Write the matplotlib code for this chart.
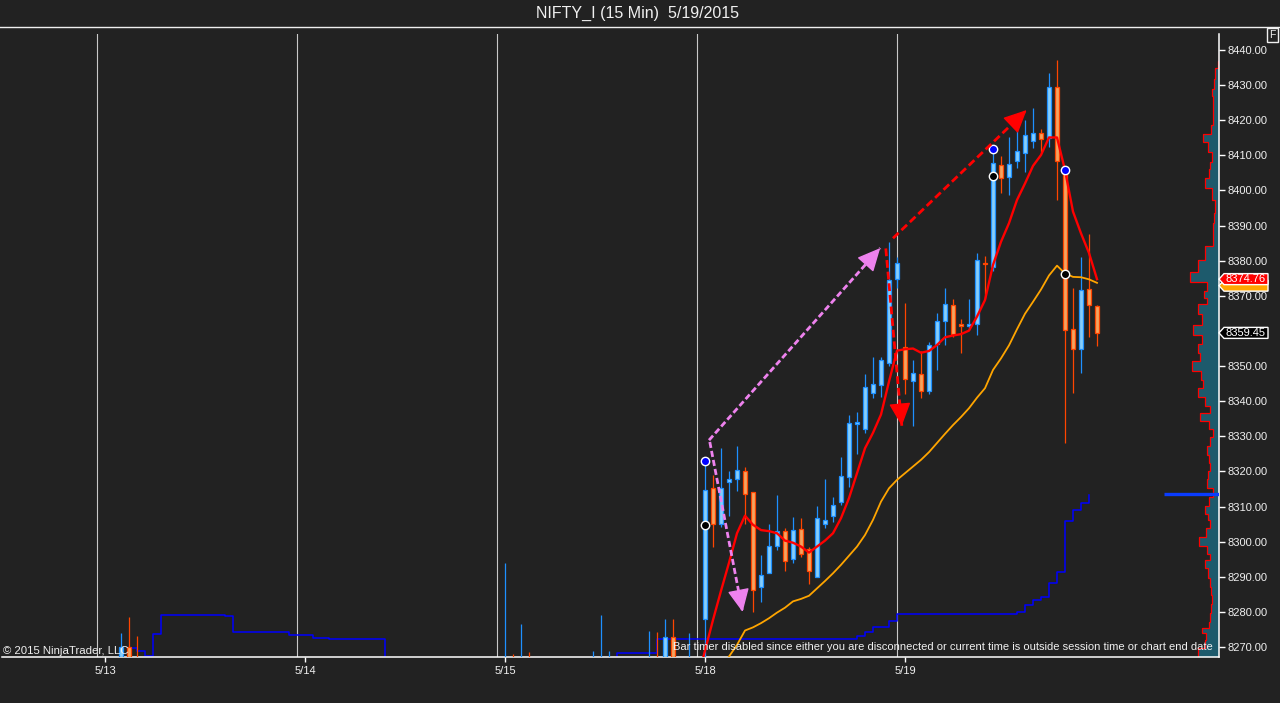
import numpy as np
import matplotlib
matplotlib.use('Agg')
import matplotlib.pyplot as plt
from matplotlib.lines import Line2D
from matplotlib.patches import Polygon
from matplotlib.transforms import blended_transform_factory

plt.rcParams['font.family'] = ['Liberation Sans', 'DejaVu Sans']

BG = '#222222'
FG = '#f0f0f0'

# 15 min bars, 25 bars per session; bar index 0 = first bar of 5/13
day_labels = ['5/13', '5/14', '5/15', '5/18', '5/19']
bars_per_day = 25

# bars of 5/13 - 5/15 only poke their highs into the panel
early_idx = [2, 3, 4, 50, 51, 52, 53, 61, 62, 63, 68, 69, 70, 71, 73]
early_open = [8255, 8270, 8262, 8240, 8258, 8245, 8262, 8250, 8258, 8262, 8258, 8266, 8260, 8272.8, 8262]
early_high = [8273.9, 8278.5, 8273.1, 8293.8, 8268, 8276.6, 8268.6, 8268.8, 8279, 8268.8, 8274.7, 8274.3, 8278, 8278, 8273.9]
early_low = [8250, 8252, 8250, 8235, 8240, 8240, 8245, 8245, 8255, 8256, 8255, 8256, 8258, 8262, 8258]
early_close = [8270, 8258, 8255, 8255, 8245, 8262, 8250, 8260, 8265, 8265.5, 8266, 8260, 8272.8, 8265, 8266]

# 5/18 and 5/19 sessions (bar 75 .. 124)
main_open = [8278, 8315.2, 8305, 8317.1, 8317.8, 8320.1, 8314.1, 8287, 8291, 8298.8,
             8303, 8295, 8303.5, 8297.8, 8289.9, 8305, 8307.3, 8311.2, 8318.3, 8333.5,
             8332, 8342.4, 8344.5, 8351, 8374.7,
             8355.3, 8345.7, 8347.7, 8342.8, 8356.2, 8362.8, 8367.3, 8361.9, 8361.3, 8362.1,
             8379.4, 8378.3, 8407.2, 8403.8, 8408.3, 8410.8, 8414, 8416.3, 8414.9, 8429.6,
             8406, 8360.5, 8354.8, 8371.9, 8367.1]
main_high = [8323, 8319, 8326.6, 8320.2, 8327.2, 8321.4, 8314.1, 8296.2, 8305, 8313.3,
             8304, 8306.9, 8306.6, 8298.6, 8310.2, 8317.8, 8312.8, 8324.2, 8336, 8337,
             8347.7, 8352.7, 8352.7, 8385.4, 8381.2,
             8367.9, 8351.7, 8354.3, 8356.9, 8365.2, 8372.1, 8369, 8363.3, 8369.1, 8382.1,
             8381.3, 8411.7, 8409.8, 8415.1, 8419.1, 8420, 8423.4, 8417.5, 8433.4, 8437.2,
             8406, 8372.2, 8381, 8387.6, 8367.4]
main_low = [8262, 8298.6, 8304.3, 8307.3, 8314.5, 8305, 8280.1, 8282.9, 8291, 8297.6,
            8291.7, 8294, 8295.7, 8288, 8289.9, 8304, 8305.5, 8310.5, 8315.7, 8325,
            8331, 8340.8, 8341.2, 8350, 8372.2,
            8342, 8333, 8341, 8342, 8348.9, 8356, 8358.2, 8353.6, 8360.3, 8358.9,
            8369.3, 8377, 8399.2, 8398.7, 8406.5, 8405.4, 8412, 8411, 8412.3, 8397.3,
            8328.2, 8342.4, 8348.1, 8358.4, 8355.7]
main_close = [8314.7, 8305, 8315.2, 8317.8, 8320.4, 8313.6, 8286.2, 8290.5, 8298.8, 8303,
              8294.6, 8303.3, 8296.4, 8291.7, 8306.6, 8306.2, 8310.3, 8318.8, 8333.7, 8334.2,
              8344, 8344.9, 8351.7, 8374.5, 8379.3,
              8346.2, 8348, 8343, 8355.9, 8362.8, 8367.7, 8359, 8361.3, 8361.9, 8380.1,
              8379, 8407.9, 8403.6, 8407.5, 8411.2, 8415.7, 8416.3, 8414.8, 8429.6, 8408.5,
              8360.3, 8354.8, 8371.6, 8367.3, 8359.45]

# fast average (red), bars 74 .. 124
fast_ma = [8260, 8269, 8277.7, 8286, 8294, 8302.4, 8307.4, 8304.8, 8303.3, 8303, 8302.4,
           8300.3, 8299.7, 8298.6, 8296.9, 8298.6, 8300.3, 8302.4, 8306.7, 8312.4, 8319.5,
           8326.6, 8331, 8336.2, 8345.6, 8354.4, 8354.8, 8355, 8353.8, 8354.3, 8356,
           8358.2, 8358.7, 8359.1, 8360.1, 8364.1, 8368.8, 8378.8, 8385.4, 8390.7, 8397.3,
           8402, 8407, 8410.1, 8415.1, 8415.1, 8405.8, 8394, 8387.8, 8382.2, 8374.76]
# slow average (orange), bars 77 .. 124
slow_ma = [8263, 8267.3, 8270.6, 8274.7, 8275.6, 8276.8, 8278.2, 8279.8, 8281.2, 8283,
           8283.7, 8284.6, 8286.7, 8288.8, 8291, 8293.4, 8296, 8298.6, 8301.9, 8306.2,
           8311.4, 8315.2, 8317.6, 8319.5, 8321.4, 8323.3, 8325.5, 8328.1, 8330.7, 8333.2,
           8335.5, 8338, 8341, 8343.7, 8348.9, 8352.2, 8355.9, 8360.5, 8364.9, 8368.3,
           8371.8, 8375.8, 8378.6, 8376.4, 8375.4, 8375.3, 8374.7, 8373.7]

# blue step line (value holds from this bar on)
stop_idx = [2, 3, 4, 5, 6, 7, 15, 16, 23, 26, 28, 35, 63, 64, 69, 94, 95, 96, 98, 99,
            114, 115, 116, 117, 118, 119, 120, 121, 122, 123]
stop_val = [8255, 8269.6, 8268.8, 8267.5, 8273.6, 8279.0, 8278.7, 8274.2, 8273.4, 8272.5,
            8272.2, 8255, 8255, 8268.2, 8272.3, 8273.1, 8274.2, 8275.6, 8277.3, 8279.4,
            8280.1, 8281.9, 8283.3, 8284.2, 8288.2, 8291.4, 8305.9, 8309.0, 8310.9, 8313.2]
level_price = 8313.5

# swing markers
hi_dot_idx = [75, 111, 120]
hi_dot_val = [8322.9, 8411.7, 8405.7]
lo_dot_idx = [75, 111, 120]
lo_dot_val = [8304.7, 8404.0, 8376.1]

# hand drawn arrows: (tail bar, tail price, head bar, head price)
pink_arrows = [(75.5, 8328.9, 96.9, 8383.6), (75.6, 8328.4, 79.7, 8280.0)]
red_arrows = [(97.6, 8383.5, 99.6, 8333.0), (98.5, 8386.4, 115.2, 8422.9)]

# volume profile along the price axis
prof_price = [8268.3, 8271.1, 8273, 8274.8, 8276, 8278.5, 8281, 8283.4, 8286, 8288.2,
              8291, 8293.9, 8295.6, 8297.5, 8299.9, 8302.5, 8305.3, 8307, 8309, 8311.5,
              8313.9, 8316.7, 8319, 8321.3, 8323.5, 8326.1, 8328.5, 8330.9, 8333, 8335.5,
              8337.5, 8340, 8342.3, 8345.2, 8347, 8350.3, 8352.5, 8355.1, 8357.4, 8360.3,
              8363.1, 8366.8, 8368.8, 8370, 8372.5, 8375.4, 8378.2, 8382.2, 8386, 8389.6,
              8392, 8395.3, 8399.3, 8402.1, 8405, 8407, 8409.5, 8412.4, 8415.2, 8417,
              8420.1, 8423, 8425.8, 8428, 8430, 8433.5, 8436, 8438]
prof_vol = [20.7, 14, 13, 17.3, 10, 9, 8, 7.3, 8, 9,
            11, 14, 9, 12, 19.7, 13, 9, 11, 14, 10,
            6.3, 12.3, 11, 9, 10, 12.3, 9, 5.7, 10, 19,
            9, 14, 20.7, 15.7, 18, 27.3, 19, 20.7, 17.3, 25.7,
            17.3, 20.7, 12.3, 15, 12.3, 29, 20.7, 14, 5.7, 5.7,
            5, 4, 7.3, 14, 9.7, 9, 7.3, 10.7, 15.7, 8,
            5.7, 6, 6.3, 7, 5, 4, 1.5, 0.5]

W, H = 1280, 703
fig = plt.figure(figsize=(W / 100, H / 100), dpi=100, facecolor=BG)
ax = fig.add_axes([2 / W, 46 / H, 1217 / W, 623 / H])
ax.set_facecolor(BG)
trans = blended_transform_factory(ax.transAxes, ax.transData)

# session breaks
for k in range(len(day_labels)):
    ax.axvline(k * bars_per_day - 1, color='#c8c8c8', lw=0.8, zorder=1)

# volume profile
edges = np.concatenate([[prof_price[0] - 1.4],
                        (np.array(prof_price[1:]) + np.array(prof_price[:-1])) / 2,
                        [prof_price[-1] + 1.2]])
pvals = 1 - np.array(prof_vol) / 1217
ax.stairs(pvals, edges, orientation='horizontal', baseline=1, fill=True,
          facecolor='#1d5a6c', edgecolor='none', transform=trans, zorder=2)
ax.stairs(pvals, edges, orientation='horizontal', baseline=None, color='red',
          lw=0.9, transform=trans, zorder=2)

# blue step line
ax.step(stop_idx, stop_val, where='post', color='#0000ff', lw=1.1, zorder=2)
ax.plot([132.4, 139.25], [level_price, level_price], color='#0a3cff', lw=2.4,
        solid_capstyle='butt', zorder=3)

# candles
idx = np.array(early_idx + list(range(75, 125)))
o = np.array(early_open + main_open)
h = np.array(early_high + main_high)
l = np.array(early_low + main_low)
c = np.array(early_close + main_close)
up = c >= o
up_face, up_edge = '#87cefa', '#1e90ff'
dn_face, dn_edge = '#f4a460', '#ff4500'
wick_colors = np.where(up, up_edge, dn_edge)
ax.vlines(idx, l, h, colors=wick_colors, lw=0.9, zorder=3)
body_bottom = np.minimum(o, c)
body_height = np.maximum(np.abs(c - o), 0.25)
ax.bar(idx[up], body_height[up], bottom=body_bottom[up], width=0.6,
       color=up_face, edgecolor=up_edge, lw=0.9, zorder=4)
ax.bar(idx[~up], body_height[~up], bottom=body_bottom[~up], width=0.6,
       color=dn_face, edgecolor=dn_edge, lw=0.9, zorder=4)

# moving averages
ax.plot(range(74, 125), fast_ma, color='red', lw=1.7, zorder=5)
ax.plot(range(77, 125), slow_ma, color='#ffa500', lw=1.3, zorder=5)

# swing dots
ax.plot(hi_dot_idx, hi_dot_val, 'o', ms=6, mfc='#0000ff', mec='white', mew=1, zorder=6)
ax.plot(lo_dot_idx, lo_dot_val, 'o', ms=6, mfc='black', mec='white', mew=1, zorder=6)


def dashed_arrow(a, color, dashes):
    x0, y0, x1, y1 = a
    ax.plot([x0, x1], [y0, y1], color=color, lw=2, ls=(0, dashes),
            dash_capstyle='butt', zorder=7)
    back = (x1 - 0.06 * (x1 - x0), y1 - 0.06 * (y1 - y0))
    ax.annotate('', xy=(x1, y1), xytext=back, zorder=8,
                arrowprops=dict(arrowstyle='-|>,head_length=0.8,head_width=0.38',
                                color=color, lw=1, shrinkA=0, shrinkB=0,
                                mutation_scale=18))


for a in pink_arrows:
    dashed_arrow(a, '#ee82ee', (2.2, 1.1))
for a in red_arrows:
    dashed_arrow(a, 'red', (2.8, 1.4))

# axes styling
ax.set_xlim(-12.875, 139.25)
ax.set_ylim(8267.16, 8444.56)
ax.set_xticks([k * bars_per_day for k in range(len(day_labels))])
ax.set_xticklabels(day_labels)
yt = np.arange(8270, 8441, 10)
ax.yaxis.tick_right()
ax.set_yticks(yt)
ax.set_yticklabels([f'{v:.2f}' for v in yt])
ax.tick_params(axis='x', direction='out', length=3.6, width=1, color='white',
               labelsize=8, labelcolor=FG, pad=3)
ax.tick_params(axis='y', direction='out', length=4.3, width=1, color='white',
               labelsize=8, labelcolor=FG, pad=1.5)
for s in ['top', 'left']:
    ax.spines[s].set_visible(False)
for s in ['right', 'bottom']:
    ax.spines[s].set_color('white')
    ax.spines[s].set_linewidth(1.1)


def price_tag(price, text, face, txt):
    dx = 5 / 1217
    x1 = 1 + 49 / 1217
    hh = 5.5 / 3.512
    poly = Polygon([(1, price), (1 + dx, price + hh), (x1, price + hh),
                    (x1, price - hh), (1 + dx, price - hh)], closed=True,
                   transform=trans, facecolor=face, edgecolor='white', lw=1,
                   clip_on=False, zorder=10)
    ax.add_patch(poly)
    if text:
        ax.text(1 + 7 / 1217, price, text, transform=trans, ha='left', va='center',
                fontsize=8, color=txt, clip_on=False, zorder=11)


# orange tag sits under the red one, its text is hidden behind it
price_tag(slow_ma[-1] - 0.8, '', '#ffa500', 'white')
price_tag(fast_ma[-1], f'{fast_ma[-1]:.2f}', '#ff0000', 'white')
price_tag(main_close[-1], f'{main_close[-1]:.2f}', 'black', 'white')

# frame texts
fig.add_artist(Line2D([0, 1], [1 - 27 / H] * 2, color=FG, lw=1, transform=fig.transFigure))
fig.text(637 / W, 1 - 13 / H, 'NIFTY_I (15 Min)  5/19/2015', ha='center', va='center',
         fontsize=11.5, color=FG)
fig.text(1272.5 / W, 1 - 35 / H, 'F', ha='center', va='center', fontsize=7.5, color=FG,
         bbox=dict(boxstyle='square,pad=0.2', fc='none', ec=FG, lw=1))
fig.text(3 / W, 1 - 650.7 / H, '\u00a9 2015 NinjaTrader, LLC', ha='left', va='center',
         fontsize=8.2, color=FG)
fig.text(1213 / W, 1 - 646.7 / H,
         'Bar timer disabled since either you are disconnected or current time is '
         'outside session time or chart end date',
         ha='right', va='center', fontsize=8, color=FG)

fig.savefig('out.png', dpi=100, facecolor=BG)
